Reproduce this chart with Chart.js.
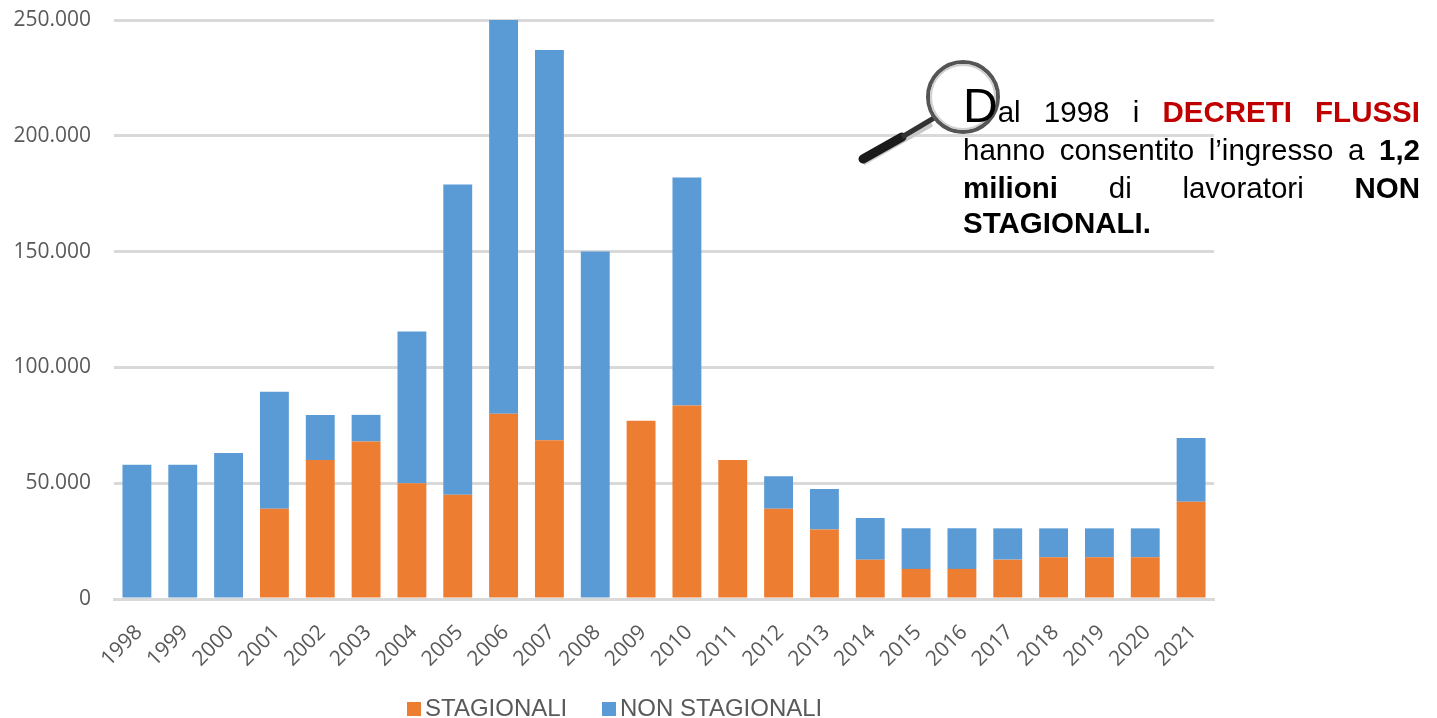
<!DOCTYPE html>
<html lang="it">

<head>
    <meta charset="UTF-8" />
    <title>Decreti flussi 1998-2021</title>
    <script src="https://cdn.jsdelivr.net/npm/chart.js"></script>
    <style>
        body {
            margin: 0;
            background: white;
            overflow: hidden;
        }

        #wrap {
            position: relative;
            width: 1437px;
            height: 718px;
        }

        #note {
            position: absolute;
            left: 963px;
            top: 93px;
            width: 457px;
            font-family: "Liberation Sans", Arial, sans-serif;
            font-size: 29.5px;
            line-height: 38px;
            color: black;
        }

        #note div {
            text-align: justify;
            text-align-last: justify;
            white-space: nowrap;
        }

        #note div:last-child {
            text-align-last: left;
            margin-top: -3px;
        }

        #note .big {
            font-size: 48px;
            line-height: 0;
        }

        #note .red {
            color: #c00000;
        }

        #lens {
            position: absolute;
            left: 850px;
            top: 50px;
        }

        #legend {
            position: absolute;
            top: 694px;
            left: 407px;
            font-family: "Liberation Sans", Arial, sans-serif;
            font-size: 24px;
            line-height: 28px;
            color: #595959;
            white-space: nowrap;
        }

        #legend span {
            position: absolute;
            top: 0;
        }

        #legend i {
            display: inline-block;
            width: 14px;
            height: 14px;
            margin-right: 4px;
        }
    </style>
</head>

<body>
    <div id="wrap">
        <canvas id="chart" width="1437" height="718"></canvas>
        <svg id="lens" width="160" height="125" viewBox="0 0 160 125">
            <line x1="13" y1="113" x2="82" y2="74" stroke="#c9c9c9" stroke-width="5" />
            <line x1="13" y1="109" x2="52" y2="87" stroke="#1a1a1a" stroke-width="9" stroke-linecap="round" />
            <line x1="52" y1="87" x2="84" y2="68" stroke="#333" stroke-width="5" />
            <circle cx="113" cy="47" r="35" fill="white" fill-opacity="0.85" stroke="#555" stroke-width="4" />
            <circle cx="113" cy="47" r="32" fill="none" stroke="#d0d0d0" stroke-width="2" />
        </svg>
        <div id="note">
            <div><span class="big">D</span>al 1998 i <b class="red">DECRETI FLUSSI</b></div>
            <div>hanno consentito l’ingresso a <b>1,2</b></div>
            <div><b>milioni</b> di lavoratori <b>NON</b></div>
            <div><b>STAGIONALI.</b></div>
        </div>
        <div id="legend"></div>
    </div>

    <script>
        const years = ["1998", "1999", "2000", "2001", "2002", "2003", "2004", "2005", "2006", "2007", "2008", "2009",
            "2010", "2011", "2012", "2013", "2014", "2015", "2016", "2017", "2018", "2019", "2020", "2021"];
        const stagionali = [0, 0, 0, 39000, 60000, 68000, 50000, 45000, 80000, 68500, 0, 77000,
            83500, 60000, 39000, 30000, 17000, 13000, 13000, 17000, 18000, 18000, 18000, 42000];
        const nonStagionali = [58000, 58000, 63000, 50500, 19500, 11500, 65500, 134000, 170000, 168500, 150000, 0,
            98500, 0, 14000, 17500, 18000, 17500, 17500, 13500, 12500, 12500, 12500, 27500];

        const chart = new Chart(document.getElementById("chart"), {
            type: "bar",
            data: {
                labels: years,
                datasets: [
                    { label: "STAGIONALI", data: stagionali, backgroundColor: "#ed7d31", barPercentage: 0.63, categoryPercentage: 1 },
                    { label: "NON STAGIONALI", data: nonStagionali, backgroundColor: "#5b9bd5", barPercentage: 0.63, categoryPercentage: 1 }
                ]
            },
            options: {
                responsive: false,
                animation: false,
                layout: { padding: { top: 20, right: 223, left: 0, bottom: 0 } },
                plugins: {
                    tooltip: { enabled: false },
                    legend: { display: false }
                },
                scales: {
                    x: {
                        stacked: true,
                        afterFit(scale) { scale.height = 119; },
                        grid: { display: false },
                        border: { color: "#d9d9d9", width: 3 },
                        ticks: {
                            color: "#595959",
                            font: { family: "'Open Sans'", size: 21 },
                            minRotation: 45,
                            maxRotation: 45,
                            autoSkip: false,
                            padding: 13,
                            labelOffset: 2
                        }
                    },
                    y: {
                        stacked: true,
                        min: 0,
                        max: 250000,
                        afterFit(scale) {
                            scale.width = 114;
                            // the top label may stick out, no extra room for it
                            scale.paddingTop = 0;
                            scale.paddingBottom = 0;
                        },
                        grid: { color: "#d9d9d9", lineWidth: 3, drawTicks: false },
                        border: { display: false },
                        ticks: {
                            stepSize: 50000,
                            padding: 23,
                            color: "#595959",
                            font: { family: "'Open Sans'", size: 21 },
                            callback: v => v.toLocaleString("de-DE")
                        }
                    }
                }
            }
        });

        // legend built from the datasets, second entry starts 195px after the first
        const legendBox = document.getElementById("legend");
        chart.data.datasets.forEach((ds, i) => {
            const item = document.createElement("span");
            item.style.left = (i * 195) + "px";
            item.innerHTML = `<i style="background:${ds.backgroundColor}"></i>${ds.label}`;
            legendBox.appendChild(item);
        });
    </script>
</body>

</html>
